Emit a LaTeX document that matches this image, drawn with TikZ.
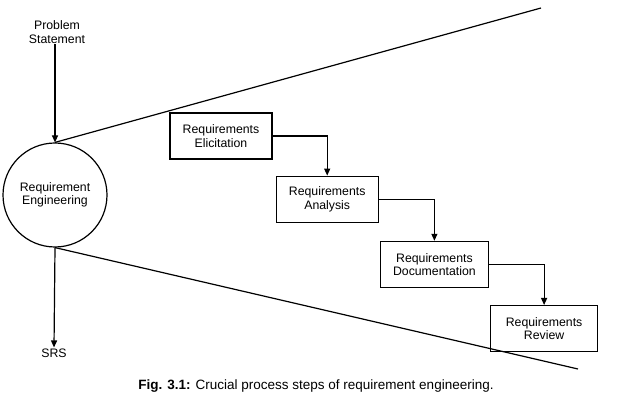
\documentclass[tikz,border=0pt]{standalone}
\usepackage{fontspec}
\setmainfont{Liberation Sans}
\usetikzlibrary{arrows.meta,positioning}

\begin{document}
\begin{tikzpicture}[
  x=1pt, y=-1pt,
  node distance=16pt and 3pt,
  box/.style={rectangle, draw, line width=1.2pt, minimum height=46pt, minimum width=102pt, align=center, font=\fontsize{12.3}{13.5}\selectfont, inner sep=2pt},
  hub/.style={circle, draw, line width=1.2pt, minimum size=104pt, align=center, font=\fontsize{12.3}{13.5}\selectfont, inner sep=0pt},
  term/.style={align=center, font=\fontsize{12.3}{13.5}\selectfont, inner sep=1pt},
  arrow/.style={-{Triangle[length=7pt, width=6pt]}, line width=1.2pt},
  edge/.style={line width=1.2pt}
]
\useasboundingbox (0,0) rectangle (618,411);

%% Centre and its input/output
\node[hub] (reqeng) at (55,195) {Requirement\\Engineering};
\node[term] (probstmt) at (57,32) {Problem\\Statement};
\node[term] (srs) at (54,353) {SRS};

%% Cone
\coordinate (conetop) at (541,8);
\coordinate (conebot) at (578,369);
\draw[edge] (reqeng.north) -- (conetop);
\draw[edge] (reqeng.south) -- (conebot);

%% Steps
\node[box] (elicit) at (221,136) {Requirements\\Elicitation};
\node[box, below right=16pt and 3pt of elicit.south east, anchor=north west] (analysis) {Requirements\\Analysis};
\node[box, minimum width=108pt, below right=18pt and 1pt of analysis.south east, anchor=north west] (document) {Requirements\\Documentation};
\node[box, minimum width=107pt, below right=17pt and 1pt of document.south east, anchor=north west] (review) {Requirements\\Review};

%% Arrows
\draw[arrow] (probstmt.south -| reqeng.north) -- (reqeng.north);
\draw[arrow] (reqeng.south) -- (srs.north);
\draw[arrow] (elicit.east) -| (analysis.north);
\draw[arrow] (analysis.east) -| (document.north);
\draw[arrow] (document.east) -| (review.north);

%% Caption
\node[term, font=\fontsize{13.5}{15}\selectfont] (caption) at (316,386) {\textbf{Fig. 3.1:} Crucial process steps of requirement engineering.};
\end{tikzpicture}
\end{document}
